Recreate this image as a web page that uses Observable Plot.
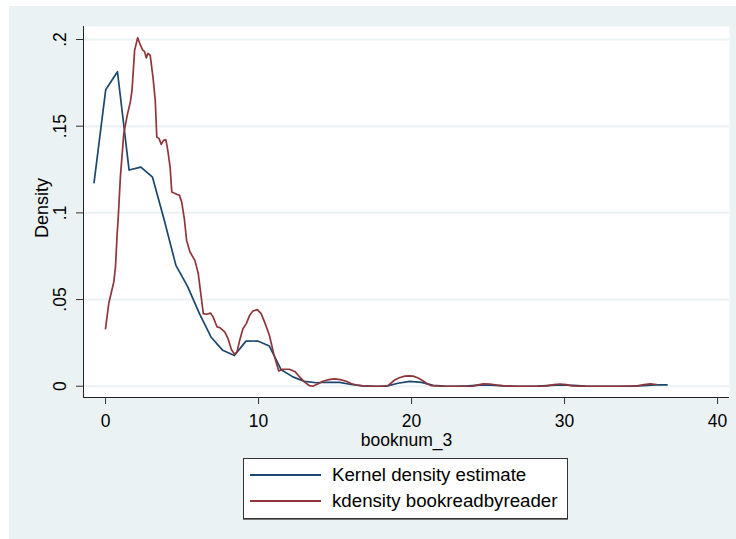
<!DOCTYPE html>
<html>
<head>
<meta charset="utf-8">
<script src="https://cdn.jsdelivr.net/npm/d3@7"></script>
<script src="https://cdn.jsdelivr.net/npm/@observablehq/plot@0.6"></script>
<style>
  html, body { margin: 0; padding: 0; background: #ffffff; }
  #wrap { position: relative; width: 736px; height: 539px; overflow: hidden; font-family: "Liberation Sans", Arial, sans-serif; }
  #bg { position: absolute; left: 9px; top: 6px; width: 727px; height: 533px; background: #eaf2f3; }
  #chart { position: absolute; left: 0; top: 0; }
  #chart svg { background: transparent !important; }
  #legend { position: absolute; left: 243px; top: 458px; width: 323px; height: 59px; background: #ffffff; border: 1px solid #333; box-shadow: 0 1px 0 #777; }
  .row { position: absolute; left: 6px; height: 20px; display: flex; align-items: center; }
  .sw { width: 71px; height: 2px; margin-right: 11px; }
  .lab { font-size: 18.7px; color: #000; white-space: nowrap; }
</style>
</head>
<body>
<div id="wrap">
  <div id="bg"></div>
  <div id="chart"></div>
  <div id="legend"></div>
</div>
<script>
// Series 1: Kernel density estimate (booknum_3)
const blueX = [-0.75, 0.01, 0.78, 1.54, 2.31, 3.07, 3.84, 4.6, 5.36, 6.13, 6.89, 7.66, 8.42, 9.18, 9.95, 10.71, 11.48, 12.24, 13.0, 13.77, 14.53, 15.3, 16.06, 16.82, 17.59, 18.35, 19.12, 19.88, 20.65, 21.41, 22.17, 22.94, 23.7, 24.47, 25.23, 25.99, 26.76, 27.52, 28.29, 29.05, 29.82, 30.58, 31.34, 32.11, 32.87, 33.64, 34.4, 35.17, 35.93, 36.7];
const blueY = [0.1174, 0.171, 0.1814, 0.1247, 0.1264, 0.1206, 0.0957, 0.0697, 0.0576, 0.042, 0.0284, 0.0207, 0.0177, 0.026, 0.0261, 0.0232, 0.0095, 0.0054, 0.0028, 0.002, 0.0023, 0.0022, 0.001, 0.0002, 0, 0.0001, 0.0017, 0.0028, 0.0022, 0.0005, 0.0001, 0, 0.0002, 0.0006, 0.0006, 0.0002, 0, 0, 0.0001, 0.0005, 0.0007, 0.0005, 0.0001, 0, 0, 0, 0.0001, 0.0004, 0.0008, 0.0008];

// Series 2: kdensity bookreadbyreader
const redX = [0, 0.21, 0.54, 0.65, 0.76, 0.82, 0.97, 1.19, 1.41, 1.62, 1.73, 1.9, 2.1, 2.27, 2.42, 2.55, 2.66, 2.77, 2.92, 3.1, 3.25, 3.35, 3.5, 3.64, 3.79, 3.94, 4.07, 4.22, 4.33, 4.65, 4.83, 4.98, 5.15, 5.3, 5.52, 5.84, 6.06, 6.28, 6.39, 6.6, 6.86, 7.03, 7.29, 7.47, 7.79, 8.01, 8.23, 8.44, 8.59, 8.77, 8.98, 9.2, 9.42, 9.63, 9.92, 10.17, 10.39, 10.71, 10.99, 11.32, 11.58, 12.01, 12.4, 12.67, 13.0, 13.33, 13.55, 13.9, 14.2, 14.6, 14.97, 15.35, 15.73, 16.05, 16.39, 16.8, 17.5, 18.0, 18.46, 18.9, 19.2, 19.56, 19.85, 20.1, 20.4, 20.66, 21.0, 21.3, 22, 23, 24, 24.35, 24.7, 25.1, 25.6, 26.2, 27, 28, 28.86, 29.3, 29.7, 30.1, 30.5, 31.5, 32.5, 33.5, 34.76, 35.2, 35.6, 36.0];
const redY = [0.0332, 0.0477, 0.0601, 0.0688, 0.088, 0.0957, 0.1206, 0.1456, 0.156, 0.1639, 0.1706, 0.1937, 0.201, 0.197, 0.194, 0.193, 0.1894, 0.192, 0.1908, 0.1783, 0.1648, 0.1437, 0.1428, 0.1395, 0.1418, 0.1422, 0.136, 0.1264, 0.112, 0.1107, 0.1101, 0.1062, 0.0966, 0.0841, 0.0774, 0.0726, 0.065, 0.0496, 0.0419, 0.0415, 0.0422, 0.04, 0.0342, 0.0338, 0.0313, 0.0274, 0.0211, 0.0184, 0.0198, 0.0265, 0.0332, 0.0361, 0.0409, 0.0434, 0.0442, 0.0419, 0.0371, 0.0294, 0.0188, 0.0088, 0.0098, 0.0098, 0.0083, 0.0055, 0.0025, 0.0003, 0, 0.0014, 0.0029, 0.0038, 0.0042, 0.0038, 0.0029, 0.0016, 0.0007, 0.0002, 0, 0, 0.0003, 0.0036, 0.0049, 0.0058, 0.006, 0.0058, 0.0049, 0.0036, 0.0016, 0.0003, 0, 0, 0.0001, 0.0008, 0.0014, 0.0013, 0.0006, 0.0001, 0, 0, 0.0002, 0.0009, 0.0013, 0.0009, 0.0002, 0, 0, 0, 0.0002, 0.0009, 0.0014, 0.001];

const seriesNames = ["Kernel density estimate", "kdensity bookreadbyreader"];
const seriesColors = ["#1a476f", "#90353b"];

const xTicks = [0, 10, 20, 30, 40];
const xTickLabels = ["0", "10", "20", "30", "40"];
const yTicks = [0, 0.05, 0.1, 0.15, 0.2];
const yTickLabels = ["0", ".05", ".1", ".15", ".2"];
const xTitle = "booknum_3";
const yTitle = "Density";

const xDomain = [-1.44, 40.78];
const yDomain = [-0.0065, 0.2075];

const blue = blueX.map((x, i) => ({x, y: blueY[i]}));
const red = redX.map((x, i) => ({x, y: redY[i]}));

const font = "'Liberation Sans', Arial, sans-serif";

const plot = Plot.plot({
  width: 736,
  height: 539,
  marginLeft: 83,
  marginRight: 7,
  marginTop: 26,
  marginBottom: 142,
  style: { fontFamily: font, background: "transparent", color: "#000" },
  x: { domain: xDomain, ticks: xTicks },
  y: { domain: yDomain, ticks: yTicks },
  marks: [
    Plot.frame({ fill: "#ffffff", stroke: "none" }),
    Plot.gridY(yTicks, { stroke: "#eaf2f3", strokeOpacity: 1, strokeWidth: 2 }),
    Plot.line(blue, { x: "x", y: "y", stroke: seriesColors[0], strokeWidth: 1.7 }),
    Plot.line(red, { x: "x", y: "y", stroke: seriesColors[1], strokeWidth: 1.7 }),
    Plot.ruleX([xDomain[0]], { stroke: "#222", strokeWidth: 1 }),
    Plot.ruleY([yDomain[0]], { stroke: "#222", strokeWidth: 1 }),
    Plot.axisX(xTicks, { tickSize: 7, tickPadding: 10, stroke: "#333", fontSize: 17.5, fill: "#000",
      tickFormat: (d) => xTickLabels[xTicks.indexOf(d)], label: null }),
    Plot.axisY(yTicks, { tickSize: 7, stroke: "#333", tickFormat: () => "", label: null }),
    Plot.text(yTicks, { y: (d) => d, frameAnchor: "left", text: (d) => yTickLabels[yTicks.indexOf(d)],
      rotate: -90, textAnchor: "middle", lineAnchor: "bottom", dx: -18, fontSize: 17.5, fill: "#000" }),
    Plot.text([yTitle], { frameAnchor: "left", text: (d) => d, rotate: -90, textAnchor: "middle",
      lineAnchor: "bottom", dx: -36, dy: -4, fontSize: 18, fill: "#000" }),
    Plot.text([xTitle], { frameAnchor: "bottom", text: (d) => d, textAnchor: "middle",
      lineAnchor: "bottom", dy: 48, fontSize: 17.5, fill: "#000" })
  ]
});
document.getElementById("chart").appendChild(plot);

const legend = document.getElementById("legend");
seriesNames.forEach((name, i) => {
  const row = document.createElement("div");
  row.className = "row";
  row.style.top = (6 + i * 26) + "px";
  const sw = document.createElement("div");
  sw.className = "sw";
  sw.style.background = seriesColors[i];
  const lab = document.createElement("span");
  lab.className = "lab";
  lab.textContent = name;
  row.appendChild(sw);
  row.appendChild(lab);
  legend.appendChild(row);
});
</script>
</body>
</html>
